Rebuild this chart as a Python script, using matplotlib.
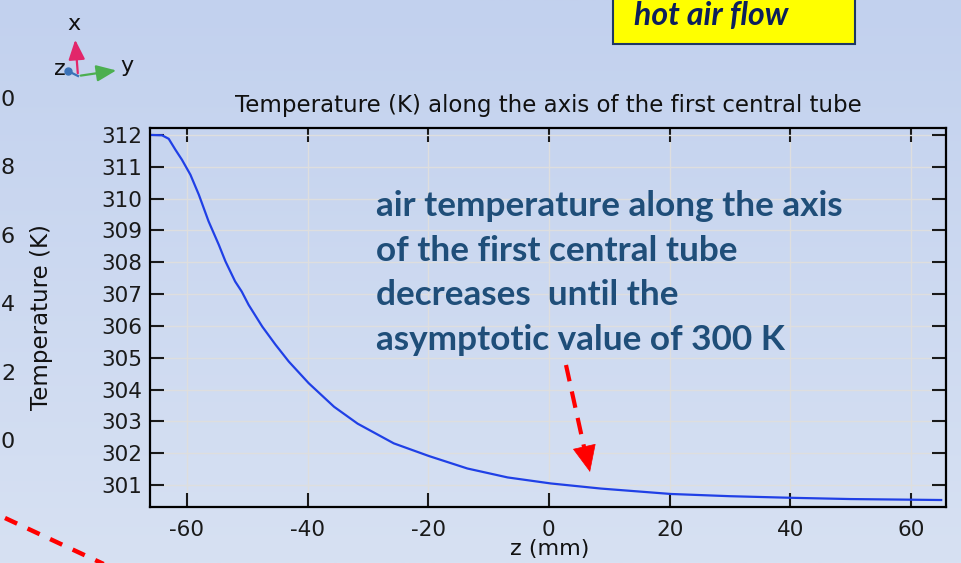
import numpy as np
import matplotlib
matplotlib.use("Agg")
import matplotlib.pyplot as plt
from matplotlib.transforms import Affine2D
from matplotlib.patches import Rectangle, FancyArrowPatch
from matplotlib.lines import Line2D

plt.rcParams['axes.unicode_minus'] = False

# values
z_mm = [-65.8, -64.1, -63.0, -61.9, -60.8, -59.4, -58.0, -56.4, -54.7, -53.6,
        -52.0, -50.9, -49.75, -47.5, -45.3, -43.1, -39.8, -35.6, -31.7, -25.7,
        -19.85, -13.5, -6.85, 0.33, 8.6, 20.2, 30.0, 40.1, 50.0, 65.0]
temp_k = [312.0, 311.99, 311.88, 311.54, 311.22, 310.75, 310.12, 309.29, 308.55, 308.03,
          307.40, 307.08, 306.66, 305.98, 305.41, 304.88, 304.2, 303.46, 302.93, 302.31,
          301.91, 301.52, 301.24, 301.05, 300.89, 300.72, 300.65, 300.6, 300.56, 300.53]
x_ticks = [-60, -40, -20, 0, 20, 40, 60]
y_ticks = list(range(301, 313))
left_labels = ["0", "8", "6", "4", "2", "0"]
note_lines = ["air temperature along the axis",
              "of the first central tube",
              "decreases  until the",
              "asymptotic value of 300 K"]

W, H = 961, 563
fig = plt.figure(figsize=(W / 100, H / 100), dpi=100)
# pixel coords, origin top-left
pix = Affine2D().scale(1 / W, -1 / H).translate(0, 1) + fig.transFigure

# slide background gradient
bg = fig.add_axes([0, 0, 1, 1], zorder=-5)
top = np.array([194, 209, 238]) / 255
bot = np.array([215, 225, 243]) / 255
t = np.linspace(0, 1, 200)[:, None]
grad = (top * (1 - t) + bot * t)[:, None, :]
bg.imshow(grad, aspect='auto', extent=[0, 1, 0, 1])
bg.axis('off')

ax = fig.add_axes([150 / W, 1 - 506.7 / H, 796 / W, 378.4 / H])
ax.set_facecolor('none')
ax.plot(z_mm, temp_k, color='#2040e6', lw=1.6)
ax.set_xlim(-66.1, 65.8)
ax.set_ylim(300.32, 312.21)
ax.set_xticks(x_ticks)
ax.set_yticks(y_ticks)
ax.grid(True, color='#dedede', lw=1)
ax.tick_params(direction='in', length=10, width=1.5, top=True, right=True,
               labelsize=15.5, colors='#1a1a1a')
ax.tick_params(axis='x', pad=9.5)
ax.tick_params(axis='y', pad=5.5)
for s in ax.spines.values():
    s.set_linewidth(1.6)
ax.set_title("Temperature (K) along the axis of the first central tube",
             fontsize=16.5, pad=12, color='#111111')
ax.set_xlabel("z (mm)", fontsize=16, color='#111111')
ax.set_ylabel("Temperature (K)", fontsize=16.5, color='#111111')
ax.xaxis.set_label_coords(0.502, -0.085)
ax.yaxis.set_label_coords(-0.122, 0.5)

# annotation text
for i, line in enumerate(note_lines):
    fig.text(376, 216 + i * 44.7, line, transform=pix, family='Lato',
             weight='bold', fontsize=25.3, color='#1f4e79', va='baseline')

# red dashed arrow: dashed shaft + solid head
fig.lines.append(Line2D([566, 586], [365, 456], transform=pix, color='#ff0000',
                        lw=3, ls=(0, (4, 2.5))))
fig.patches.append(FancyArrowPatch(
    (585.5, 452), (590, 472), transform=pix, arrowstyle='-|>,head_length=18,head_width=8',
    color='#ff0000', lw=0.5, mutation_scale=1, shrinkA=0, shrinkB=0))
fig.lines.append(Line2D([5, 110], [518, 567], transform=pix,
                        color='#ff0000', lw=3.2, ls=(0, (3, 2.6))))

# yellow label box
fig.patches.append(Rectangle((613, -5), 242, 49, transform=pix, facecolor='#ffff00',
                             edgecolor='#1f3864', lw=1.5))
fig.text(634, 25, "hot air flow", transform=pix, family='Lato', weight='bold',
         style='italic', fontsize=23, color='#0c1f5c', va='baseline')

# leftover tick labels of a neighbouring plot
for i, lab in enumerate(left_labels):
    fig.text(1, 100 + i * 68.4, lab, transform=pix, fontsize=16, color='#1a1a1a',
             va='center', ha='left')

# axis triad
ox, oy = 78, 76
fig.patches.append(FancyArrowPatch(
    (ox, oy), (75, 37), transform=pix, arrowstyle='-|>,head_length=6,head_width=2.5',
    color='#e2266a', lw=1.6, mutation_scale=2))
fig.patches.append(FancyArrowPatch(
    (ox, oy), (119, 70), transform=pix, arrowstyle='-|>,head_length=6,head_width=2.5',
    color='#4caf50', lw=1.6, mutation_scale=2))
fig.lines.append(Line2D([ox, 68], [oy, 71], transform=pix, color='#3a72b8', lw=1.6))
fig.lines.append(Line2D([68], [71], transform=pix, marker='o', ms=5, color='#3a72b8'))
fig.text(74, 24, "x", transform=pix, fontsize=16, ha='center', va='center', color='#111111')
fig.text(127, 66, "y", transform=pix, fontsize=16, ha='center', va='center', color='#111111')
fig.text(60, 69, "z", transform=pix, fontsize=16, ha='center', va='center', color='#111111')

fig.savefig("out.png", dpi=100)
